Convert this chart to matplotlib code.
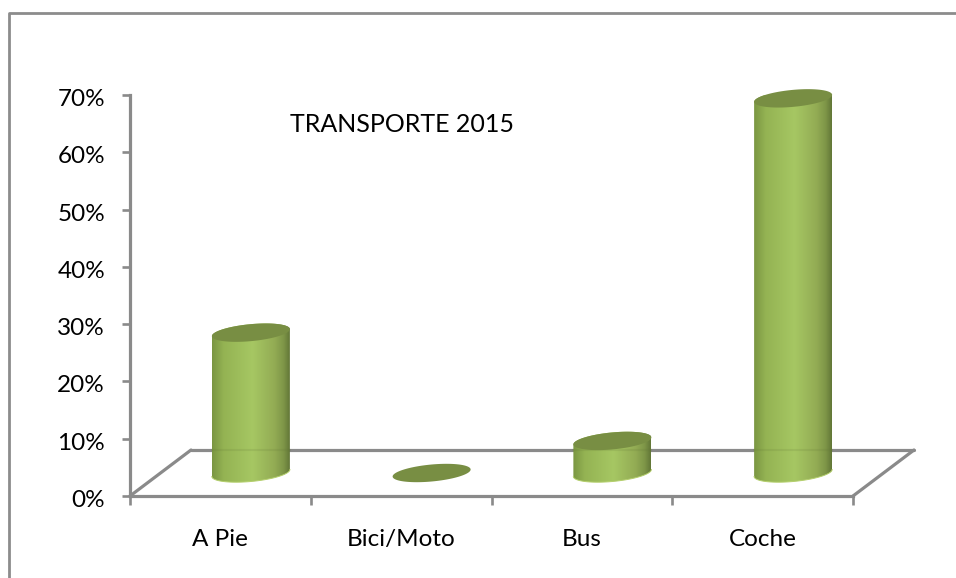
import numpy as np
import matplotlib
matplotlib.use("Agg")
import matplotlib.pyplot as plt
from matplotlib.colors import LinearSegmentedColormap
from matplotlib.lines import Line2D
from matplotlib.patches import Polygon
from matplotlib.transforms import ScaledTranslation

categories = ["A Pie", "Bici/Moto", "Bus", "Coche"]
values = [24.5, 0.0, 5.6, 65.4]
y_ticks = [0, 10, 20, 30, 40, 50, 60, 70]
title = "TRANSPORTE 2015"

W, H = 956, 578
GREY = "#8a8a8a"

plt.rcParams["font.family"] = ["Lato", "DejaVu Sans"]

fig = plt.figure(figsize=(W / 100, H / 100), dpi=100)
ax = fig.add_axes([130 / W, 1 - 496 / H, (853 - 130) / W, (496 - 95) / H])
ax.set_xlim(0, 4)
ax.set_ylim(0, 70)

# pixels to data units
px_x = 4 / (853 - 130)
px_y = 70 / (496 - 95)

for side in ["top", "right"]:
    ax.spines[side].set_visible(False)
for side in ["left", "bottom"]:
    ax.spines[side].set_color(GREY)
    ax.spines[side].set_linewidth(2.3)

ax.set_xticks(range(5))
ax.set_xticklabels([])
ax.set_xticks([i + 0.5 for i in range(4)], categories, minor=True)
ax.set_yticks(y_ticks)
ax.set_yticklabels([f"{v}%" for v in y_ticks])
ax.tick_params(axis="x", which="major", length=6.5, width=1.9, color=GREY)
ax.tick_params(axis="x", which="minor", length=0, pad=24, labelsize=17.5, labelcolor="black")
ax.tick_params(axis="y", length=6, width=1.9, color=GREY, pad=12, labelsize=17.5, labelcolor="black")

# y labels sit a little lower than matplotlib centres them
shift = ScaledTranslation(0, -2.5 / 100, fig.dpi_scale_trans)
for lab in ax.get_yticklabels():
    lab.set_transform(lab.get_transform() + shift)

# floor of the 3d box
depth_x = 61 * px_x
depth_y = 46 * px_y
floor = dict(color=GREY, lw=2.3, clip_on=False, zorder=1, solid_capstyle="round")
ax.plot([0, depth_x], [0, depth_y], **floor)
ax.plot([depth_x, 4 + depth_x], [depth_y, depth_y], **floor)
ax.plot([4, 4 + depth_x], [0, depth_y], **floor)

shade = LinearSegmentedColormap.from_list(
    "cyl",
    [(0, "#7a9642"), (0.15, "#94b353"), (0.52, "#a6c763"), (0.8, "#93ac54"), (0.92, "#7e9648"), (1, "#627737")],
)
gradient = np.linspace(0, 1, 256).reshape(1, -1)

t = np.linspace(0, 2 * np.pi, 181)
half_w = 39 * px_x


def disc(cx, cy):
    # slanted ellipse seen from above
    return np.column_stack([
        cx + half_w * np.cos(t),
        cy + (3.5 * np.cos(t) + 8.5 * np.sin(t)) * px_y,
    ])


for i, v in enumerate(values):
    cx = i + 0.5 + depth_x / 2
    base = depth_y / 2
    top = base + v
    if v > 0:
        low = disc(cx, base)
        lower_half = low[t >= np.pi]
        up = disc(cx, top)
        upper_half = up[t <= np.pi]
        body = np.vstack([lower_half, upper_half])
        clip = Polygon(body, closed=True, transform=ax.transData, fc="none", ec="none")
        ax.add_patch(clip)
        im = ax.imshow(gradient, cmap=shade, aspect="auto", zorder=3, interpolation="bilinear",
                       extent=[cx - half_w, cx + half_w, base - 4, top + 4], clip_on=True)
        im.set_clip_path(clip)
        ax.plot(lower_half[:, 0], lower_half[:, 1], color="#b4cf6c", lw=0.7, zorder=4, clip_on=False)
        # back wall line shows faintly through the bar
        if top > depth_y:
            ax.plot([cx - half_w, cx + half_w], [depth_y, depth_y], color="#5f7333", lw=1.5, alpha=0.15, zorder=4)
    ax.add_patch(Polygon(disc(cx, top), closed=True, fc="#788e43", ec="none", zorder=5, clip_on=False))

ax.set_xlim(0, 4)
ax.set_ylim(0, 70)

ax.text(290 / W, 1 - 124 / H, title, transform=fig.transFigure, fontsize=18,
        ha="left", va="center", color="black")

# chart border, runs off the right and bottom of the picture
fig.add_artist(Line2D([9 / W, 9 / W, 1], [0, 1 - 13 / H, 1 - 13 / H], color="#8c8c8c", lw=2))

fig.savefig("out.png", dpi=100, facecolor="white")
